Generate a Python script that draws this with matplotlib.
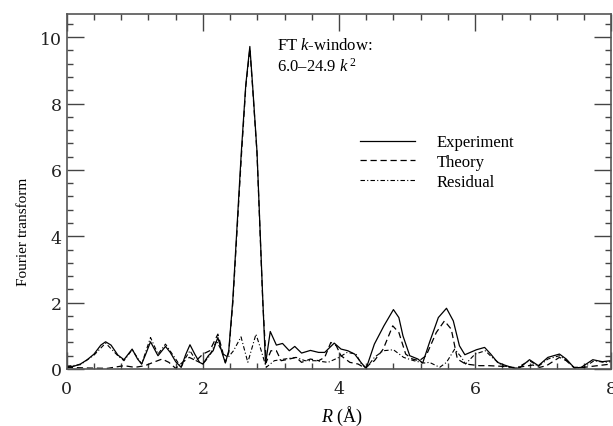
import matplotlib
matplotlib.use("Agg")
import matplotlib.pyplot as plt
from matplotlib.ticker import MultipleLocator

plt.rcParams['mathtext.fontset'] = 'custom'
plt.rcParams['mathtext.rm'] = 'Liberation Serif'
plt.rcParams['mathtext.it'] = 'Liberation Serif:italic'
plt.rcParams['font.family'] = ['Liberation Serif', 'DejaVu Serif']

# Experiment (solid)
exp_r = [0.00, 0.10, 0.20, 0.30, 0.40, 0.50, 0.57, 0.65, 0.75, 0.84, 0.96, 1.04, 1.10, 1.16, 1.23,
         1.34, 1.45, 1.52, 1.60, 1.68, 1.75, 1.81, 1.88, 1.95, 2.00, 2.08, 2.15, 2.22, 2.28, 2.33,
         2.38, 2.44, 2.565, 2.63, 2.69, 2.73, 2.795, 2.88, 2.92, 2.99, 3.08, 3.17, 3.27, 3.35, 3.45,
         3.58, 3.70, 3.79, 3.93, 4.03, 4.13, 4.23, 4.33, 4.40, 4.52, 4.66, 4.80, 4.88, 4.94, 5.04,
         5.16, 5.23, 5.33, 5.46, 5.58, 5.68, 5.77, 5.85, 6.02, 6.14, 6.23, 6.33, 6.43, 6.58, 6.65,
         6.80, 6.93, 7.07, 7.24, 7.34, 7.46, 7.56, 7.73, 7.87, 8.00]
exp_v = [0.08, 0.08, 0.15, 0.28, 0.45, 0.72, 0.82, 0.72, 0.42, 0.28, 0.60, 0.30, 0.15, 0.45, 0.82,
         0.40, 0.68, 0.50, 0.22, 0.05, 0.45, 0.73, 0.45, 0.20, 0.15, 0.40, 0.55, 0.95, 0.50, 0.18,
         0.55, 2.10, 6.55, 8.56, 9.72, 8.56, 6.55, 2.10, 0.15, 1.13, 0.72, 0.77, 0.55, 0.68, 0.48,
         0.56, 0.50, 0.50, 0.78, 0.60, 0.55, 0.45, 0.18, 0.02, 0.75, 1.30, 1.79, 1.55, 1.00, 0.40,
         0.30, 0.18, 0.80, 1.55, 1.83, 1.45, 0.70, 0.43, 0.58, 0.65, 0.45, 0.20, 0.12, 0.02, 0.03,
         0.28, 0.10, 0.35, 0.45, 0.30, 0.03, 0.05, 0.28, 0.22, 0.25]

# Theory (dashed)
th_r = [0.00, 0.30, 0.60, 0.84, 1.00, 1.15, 1.27, 1.40, 1.50, 1.60, 1.70, 1.80, 1.90, 2.00, 2.10,
        2.22, 2.28, 2.33, 2.38, 2.44, 2.565, 2.63, 2.69, 2.73, 2.795, 2.88, 2.93, 3.00, 3.08, 3.15,
        3.27, 3.37, 3.45, 3.58, 3.70, 3.79, 3.88, 3.96, 4.03, 4.16, 4.28, 4.38, 4.52, 4.65, 4.79,
        4.88, 4.98, 5.08, 5.18, 5.28, 5.43, 5.55, 5.65, 5.74, 5.86, 6.06, 6.20, 6.40, 6.60, 6.85,
        6.95, 7.05, 7.24, 7.34, 7.45, 7.60, 7.80, 8.00]
th_v = [0.05, 0.03, 0.02, 0.10, 0.05, 0.10, 0.20, 0.30, 0.20, 0.02, 0.20, 0.35, 0.25, 0.45, 0.55,
        1.05, 0.60, 0.20, 0.50, 2.00, 6.40, 8.50, 9.65, 8.50, 6.50, 2.00, 0.20, 0.55, 0.55, 0.25,
        0.30, 0.35, 0.20, 0.30, 0.25, 0.35, 0.80, 0.70, 0.40, 0.20, 0.15, 0.03, 0.25, 0.60, 1.30,
        1.10, 0.45, 0.30, 0.25, 0.40, 1.10, 1.45, 1.20, 0.30, 0.15, 0.10, 0.10, 0.08, 0.04, 0.12,
        0.05, 0.10, 0.35, 0.25, 0.05, 0.05, 0.10, 0.15]

# Residual (dash-dot)
res_r = [0.00, 0.20, 0.40, 0.57, 0.75, 0.84, 0.96, 1.10, 1.23, 1.34, 1.45, 1.60, 1.68, 1.75, 1.81,
         1.90, 2.00, 2.10, 2.20, 2.30, 2.37, 2.45, 2.56, 2.66, 2.78, 2.85, 2.93, 3.05, 3.20, 3.37,
         3.50, 3.65, 3.84, 4.00, 4.12, 4.25, 4.33, 4.40, 4.52, 4.65, 4.80, 4.95, 5.10, 5.25, 5.33,
         5.48, 5.58, 5.70, 5.80, 5.86, 6.00, 6.15, 6.25, 6.40, 6.60, 6.80, 6.93, 7.07, 7.24, 7.35,
         7.46, 7.60, 7.75, 7.90, 8.00]
res_v = [0.08, 0.13, 0.42, 0.78, 0.40, 0.25, 0.58, 0.15, 0.95, 0.45, 0.75, 0.30, 0.05, 0.35, 0.55,
         0.25, 0.15, 0.40, 0.85, 0.45, 0.35, 0.55, 0.97, 0.20, 1.05, 0.60, 0.05, 0.25, 0.30, 0.35,
         0.25, 0.25, 0.20, 0.35, 0.50, 0.45, 0.15, 0.02, 0.35, 0.55, 0.58, 0.35, 0.25, 0.18, 0.20,
         0.05, 0.20, 0.60, 0.35, 0.15, 0.45, 0.55, 0.35, 0.10, 0.02, 0.25, 0.08, 0.30, 0.40, 0.25,
         0.03, 0.05, 0.25, 0.20, 0.22]

series_labels = ["Experiment", "Theory", "Residual"]
x_ticks = [0, 2, 4, 6, 8]
y_ticks = [0, 2, 4, 6, 8, 10]

fig = plt.figure(figsize=(6.13, 4.27), dpi=100)
ax = fig.add_axes([0.109, 0.1335, 0.888, 0.8315])

ax.plot(exp_r, exp_v, color='black', lw=0.9, ls='-', label=series_labels[0])
ax.plot(th_r, th_v, color='black', lw=0.9, ls=(0, (5, 3)), label=series_labels[1])
ax.plot(res_r, res_v, color='black', lw=0.8, ls=(0, (4, 2, 1, 2)), label=series_labels[2])

ax.set_xlim(0, 8)
ax.set_ylim(0, 10.7)
ax.set_xticks(x_ticks)
ax.set_yticks(y_ticks)
ax.xaxis.set_minor_locator(MultipleLocator(0.4))
ax.yaxis.set_minor_locator(MultipleLocator(0.4))
ax.tick_params(which='both', direction='in', top=True, right=True, color='#444444', width=1.0)
ax.tick_params(which='major', length=12)
ax.tick_params(which='minor', length=4.5)
ax.tick_params(axis='y', which='major', pad=3.5)
ax.tick_params(axis='x', which='major', pad=8)
for lab in ax.get_xticklabels() + ax.get_yticklabels():
    lab.set_fontfamily('DejaVu Serif')
    lab.set_fontsize(12.5)
    lab.set_color('#222222')
for sp in ax.spines.values():
    sp.set_color('#555555')
    sp.set_linewidth(1.2)

ax.set_xlabel(r'$R$ (Å)', fontsize=13)
ax.xaxis.set_label_coords(0.506, -0.097)
ax.set_ylabel('Fourier transform', fontsize=11)
ax.yaxis.set_label_coords(-0.068, 0.39)

ax.text(3.09, 9.64, r'FT $k$-window:', fontsize=12, va='baseline', ha='left')
ax.text(3.09, 8.98, r'6.0–24.9 $k^{\,2}$', fontsize=12, va='baseline', ha='left')

ax.legend(loc='center left', bbox_to_anchor=(0.539, 0.583), frameon=False, fontsize=12,
          handlelength=3.3, handletextpad=1.3, labelspacing=0.22, borderpad=0, borderaxespad=0)

fig.savefig('out.png', dpi=100)
